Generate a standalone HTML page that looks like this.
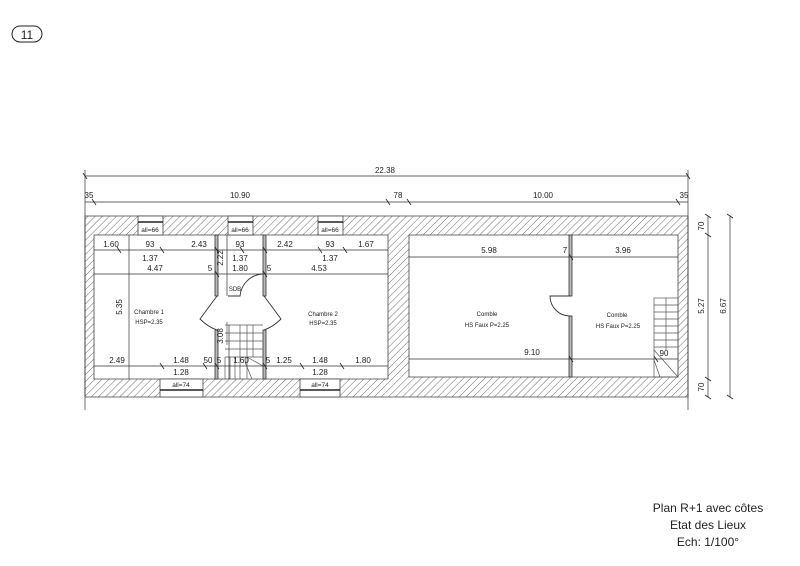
<!DOCTYPE html>
<html><head><meta charset="utf-8"><style>
html,body{margin:0;padding:0;background:#fff;}
svg{display:block;}
text{font-family:"Liberation Sans",sans-serif;fill:#222;}
</style></head><body>
<svg width="800" height="566" viewBox="0 0 800 566" xmlns="http://www.w3.org/2000/svg">
<defs>
<pattern id="h" patternUnits="userSpaceOnUse" width="5" height="5" patternTransform="rotate(45)">
<rect width="5" height="5" fill="#fff"/><line x1="0" y1="0" x2="0" y2="5" stroke="#444" stroke-width="0.8"/>
</pattern>
</defs>
<rect x="12" y="26" width="30" height="16" rx="8" fill="none" stroke="#222" stroke-width="1"/>
<text x="27" y="39" font-size="12" text-anchor="middle">11</text>

<g stroke="#444" stroke-width="0.8">
<path fill="url(#h)" fill-rule="evenodd" d="M85 216H688V397H85Z M94 235H388V379H94Z M409 235H678V377H409Z"/>
</g>
<g stroke="#444" stroke-width="0.8" fill="#fff">
<rect x="138" y="216" width="25" height="19"/><rect x="228" y="216" width="25" height="19"/><rect x="318" y="216" width="25" height="19"/>
<rect x="160" y="379" width="43" height="18"/><rect x="300" y="379" width="40" height="18"/>
</g>
<g stroke="#222" stroke-width="1.6">
<line x1="138" y1="222" x2="163" y2="222"/><line x1="228" y1="222" x2="253" y2="222"/><line x1="318" y1="222" x2="343" y2="222"/>
<line x1="160" y1="390" x2="203" y2="390"/><line x1="300" y1="390" x2="340" y2="390"/>
</g>
<g font-size="6.5" text-anchor="middle">
<text x="150" y="232">all=66</text><text x="240" y="232">all=66</text><text x="330" y="232">all=66</text>
<text x="181" y="387">all=74</text><text x="320" y="387">all=74</text>
</g>

<g stroke="#333" stroke-width="0.8" fill="#bbb">
<rect x="215" y="235" width="3" height="61"/><rect x="263" y="235" width="3" height="61"/>
<rect x="215" y="330" width="3" height="49"/><rect x="263" y="330" width="3" height="49"/>
<rect x="569" y="235" width="3" height="61"/><rect x="569" y="316" width="3" height="61"/>
</g>
<g stroke="#333" stroke-width="0.9" fill="none">
<path d="M217 296 L200 319 Q208 327 217 330"/>
<path d="M264 296 L281 319 Q273 327 264 330"/>
<path d="M228 296 H240 A24 24 0 0 1 264 274"/>
<path d="M571 296 H550 A20 20 0 0 0 571 316"/>
</g>
<g stroke="#555" stroke-width="0.7" fill="none">
<line x1="225" y1="325" x2="263" y2="325"/><line x1="225" y1="333" x2="263" y2="333"/><line x1="225" y1="341" x2="263" y2="341"/><line x1="225" y1="349" x2="263" y2="349"/><line x1="225" y1="357" x2="263" y2="357"/>
<line x1="240" y1="325" x2="240" y2="379"/><line x1="247" y1="325" x2="247" y2="379"/><line x1="225" y1="357" x2="225" y2="379"/><line x1="230" y1="357" x2="230" y2="379"/><line x1="235" y1="357" x2="235" y2="379"/>
<line x1="247" y1="357" x2="263" y2="366"/><line x1="245" y1="362" x2="252" y2="379"/>
<line x1="253" y1="325" x2="253" y2="357"/><line x1="227" y1="322" x2="227" y2="345"/>
</g>
<g stroke="#555" stroke-width="0.7" fill="none">
<rect x="654" y="298" width="24" height="79"/>
<line x1="654" y1="305" x2="678" y2="305"/><line x1="654" y1="312" x2="678" y2="312"/><line x1="654" y1="319" x2="678" y2="319"/><line x1="654" y1="326" x2="678" y2="326"/><line x1="654" y1="333" x2="678" y2="333"/><line x1="654" y1="340" x2="678" y2="340"/><line x1="654" y1="347" x2="678" y2="347"/>
<line x1="666" y1="298" x2="666" y2="350"/>
<line x1="654" y1="350" x2="678" y2="377"/><line x1="654" y1="360" x2="660" y2="377"/>
</g>

<g stroke="#333" stroke-width="0.7">
<line x1="85" y1="176" x2="688" y2="176"/>
<line x1="85" y1="202" x2="688" y2="202"/>
<line x1="85" y1="170" x2="85" y2="410"/><line x1="688" y1="170" x2="688" y2="410"/>
<line x1="94" y1="250" x2="388" y2="250"/><line x1="94" y1="274" x2="388" y2="274"/><line x1="94" y1="366" x2="388" y2="366"/>
<line x1="409" y1="257" x2="678" y2="257"/><line x1="409" y1="359" x2="678" y2="359"/>
<line x1="129" y1="235" x2="129" y2="379"/>
<line x1="708" y1="216" x2="708" y2="397"/><line x1="730" y1="216" x2="730" y2="397"/>
<line x1="227" y1="235" x2="227" y2="296"/><line x1="229" y1="325" x2="229" y2="379"/>
</g>
<g stroke="#222" stroke-width="0.8">
<path d="M92 199l4 6M386 199l4 6M407 199l4 6M676 199l4 6M83 173l4 6M686 173l4 6
M705 214l6 4M705 233l6 4M705 377l6 4M705 395l6 4M727 214l6 4M727 395l6 4
M117 247l4 6M160 247l4 6M215 247l4 6M240 247l4 6M263 247l4 6M318 247l4 6M343 247l4 6
M215 271l4 6M263 271l4 6M215 363l4 6M263 363l4 6M160 363l4 6M203 363l4 6M300 363l4 6M340 363l4 6M569 254l4 6M569 356l4 6M654 356l4 6"/>
</g>

<g font-size="8" text-anchor="middle">
<text x="385" y="173">22.38</text>
<text x="89" y="198">35</text><text x="240" y="198">10.90</text><text x="398" y="198">78</text><text x="543" y="198">10.00</text><text x="684" y="198">35</text>
<text x="111" y="247">1.60</text><text x="150" y="247">93</text><text x="199" y="247">2.43</text><text x="240" y="247">93</text><text x="285" y="247">2.42</text><text x="330" y="247">93</text><text x="366" y="247">1.67</text>
<text x="150" y="261">1.37</text><text x="240" y="261">1.37</text><text x="330" y="261">1.37</text>
<text x="155" y="271">4.47</text><text x="210" y="271">5</text><text x="240" y="271">1.80</text><text x="269" y="271">5</text><text x="319" y="271">4.53</text>
<text x="117" y="363">2.49</text><text x="181" y="363">1.48</text><text x="208" y="363">50</text><text x="219" y="363">5</text><text x="241" y="363">1.60</text><text x="268" y="363">5</text><text x="284" y="363">1.25</text><text x="320" y="363">1.48</text><text x="363" y="363">1.80</text>
<text x="181" y="375">1.28</text><text x="320" y="375">1.28</text>
<text x="489" y="253">5.98</text><text x="565" y="253">7</text><text x="623" y="253">3.96</text>
<text x="532" y="355">9.10</text><text x="664" y="356">90</text>
<text transform="translate(122 307) rotate(-90)">5.35</text>
<text transform="translate(223 258) rotate(-90)">2.22</text>
<text transform="translate(223 336) rotate(-90)">3.08</text>
<text transform="translate(704 226) rotate(-90)">70</text>
<text transform="translate(704 306) rotate(-90)">5.27</text>
<text transform="translate(704 387) rotate(-90)">70</text>
<text transform="translate(726 306) rotate(-90)">6.67</text>
</g>
<g font-size="6" text-anchor="middle">
<text x="235" y="291">SDB</text>
<text x="149" y="314">Chambre 1</text><text x="149" y="324">HSP=2.35</text>
<text x="323" y="316">Chambre 2</text><text x="323" y="325">HSP=2.35</text>
<text x="487" y="316">Comble</text><text x="487" y="327">HS Faux P=2.25</text>
<text x="617" y="317">Comble</text><text x="618" y="328">HS Faux P=2.25</text>
</g>

<g font-size="12" text-anchor="middle">
<text x="708" y="512">Plan R+1 avec côtes</text>
<text x="708" y="529">Etat des Lieux</text>
<text x="708" y="546">Ech: 1/100°</text>
</g>
</svg>
</body></html>
